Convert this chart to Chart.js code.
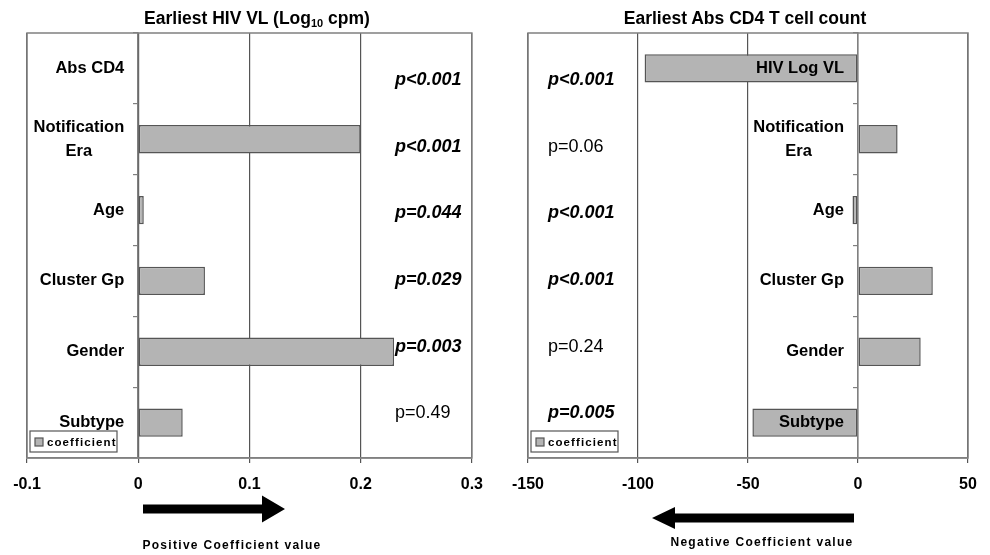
<!DOCTYPE html>
<html><head><meta charset="utf-8">
<script src="https://cdn.jsdelivr.net/npm/chart.js@4.4.1/dist/chart.umd.min.js"></script>
<style>
html,body{margin:0;padding:0;background:#fff;}
#wrap{position:relative;width:990px;height:555px;overflow:hidden;background:#fff;}
canvas{position:absolute;top:0;}
.title{position:absolute;top:8px;font:bold 17.5px "Liberation Sans",Arial,sans-serif;color:#000;white-space:nowrap;transform:translateX(-50%);}
.title sub{font-size:11px;vertical-align:-3px;line-height:0;}
</style></head><body>
<div id="wrap">
<canvas id="c1" width="495" height="555" style="left:0;width:495px;height:555px"></canvas>
<canvas id="c2" width="495" height="555" style="left:495px;width:495px;height:555px"></canvas>
<div class="title" style="left:257px">Earliest HIV VL (Log<sub>10</sub> cpm)</div>
<div class="title" style="left:745px">Earliest Abs CD4 T cell count</div>
</div>
<script>
// ---- data ----
const leftCategories = ['Abs CD4', ['Notification', 'Era'], 'Age', 'Cluster Gp', 'Gender', 'Subtype'];
const leftValues = [-0.001, 0.2, 0.005, 0.06, 0.23, 0.04];
const leftPValues = ['p<0.001', 'p<0.001', 'p=0.044', 'p=0.029', 'p=0.003', 'p=0.49'];
const leftTicks = [-0.1, 0, 0.1, 0.2, 0.3];

const rightCategories = ['HIV Log VL', ['Notification', 'Era'], 'Age', 'Cluster Gp', 'Gender', 'Subtype'];
const rightValues = [-97, 18, -2.5, 34, 28.5, -48];
const rightPValues = ['p<0.001', 'p=0.06', 'p<0.001', 'p<0.001', 'p=0.24', 'p=0.005'];
const rightTicks = [-150, -100, -50, 0, 50];

const seriesName = 'coefficient';
const leftCaption = 'Positive Coefficient value';
const rightCaption = 'Negative Coefficient value';

// ---- helpers ----
const FAM = '"Liberation Sans", Arial, sans-serif';
const LABEL_GAP = 14;
const measureCtx = document.createElement('canvas').getContext('2d');
function centerLines(label, font) {
  if (!Array.isArray(label)) return label;
  measureCtx.font = font;
  const widths = label.map(s => measureCtx.measureText(s).width);
  const maxW = Math.max(...widths);
  const sp = measureCtx.measureText(' ').width;
  return label.map((s, i) => s + ' '.repeat(Math.round((maxW - widths[i]) / 2 / sp)));
}

// shift category labels of the zero-positioned y axis away from the axis line
const labelGap = {
  id: 'labelGap',
  beforeDraw(chart) {
    const s = chart.scales.y;
    if (!s || typeof s._computeLabelItems !== 'function') return;
    const items = s._computeLabelItems(chart.chartArea);
    items.forEach(it => {
      if (it.options && it.options.translation) it.options.translation[0] -= LABEL_GAP;
    });
    s._labelItems = items;
  }
};

const decor = {
  id: 'decor',
  afterDraw(chart, args, o) {
    const ctx = chart.ctx;
    const a = chart.chartArea;
    const h = a.bottom - a.top;
    ctx.save();
    // frame
    ctx.strokeStyle = '#808080';
    ctx.lineWidth = 1.5;
    ctx.strokeRect(a.left, a.top, a.right - a.left, h);
    // p-values
    ctx.fillStyle = '#000';
    ctx.textAlign = 'left';
    ctx.textBaseline = 'middle';
    o.pvals.forEach((p, i) => {
      const num = parseFloat(p.slice(2));
      const sig = num < 0.05;
      ctx.font = (sig ? 'italic bold ' : '') + '18px ' + FAM;
      ctx.fillText(p, a.left + o.pX, a.top + h * (0.1106 + 0.1568 * i));
    });
    // legend
    const lx = a.left + 3, ly = a.bottom - 27, lw = 87, lh = 21;
    ctx.fillStyle = '#fff';
    ctx.fillRect(lx, ly, lw, lh);
    ctx.strokeStyle = '#555';
    ctx.lineWidth = 1.2;
    ctx.strokeRect(lx, ly, lw, lh);
    ctx.fillStyle = '#b4b4b4';
    ctx.fillRect(lx + 5, ly + 7, 8, 8);
    ctx.strokeRect(lx + 5, ly + 7, 8, 8);
    ctx.fillStyle = '#000';
    ctx.font = 'bold 11.5px ' + FAM;
    if ('letterSpacing' in ctx) ctx.letterSpacing = '1.1px';
    ctx.fillText(chart.data.datasets[0].label, lx + 17, ly + lh / 2 + 1);
    // arrow
    const ar = o.arrow;
    ctx.fillStyle = '#000';
    ctx.beginPath();
    ctx.moveTo(ar.x0, ar.y - ar.shaft / 2);
    ctx.lineTo(ar.base, ar.y - ar.shaft / 2);
    ctx.lineTo(ar.base, ar.y - ar.head / 2);
    ctx.lineTo(ar.tip, ar.y);
    ctx.lineTo(ar.base, ar.y + ar.head / 2);
    ctx.lineTo(ar.base, ar.y + ar.shaft / 2);
    ctx.lineTo(ar.x0, ar.y + ar.shaft / 2);
    ctx.closePath();
    ctx.fill();
    // caption
    ctx.font = 'bold 12px ' + FAM;
    if ('letterSpacing' in ctx) ctx.letterSpacing = '1.3px';
    ctx.textAlign = 'center';
    ctx.fillText(o.caption, o.capX, o.capY);
    if ('letterSpacing' in ctx) ctx.letterSpacing = '0px';
    ctx.restore();
  }
};

function makeChart(id, cats, vals, ticks, pvals, decorOpts, pad) {
  const yFont = 'bold 16.5px ' + FAM;
  return new Chart(document.getElementById(id), {
    type: 'bar',
    data: {
      labels: cats,
      datasets: [{
        label: seriesName,
        data: vals,
        backgroundColor: '#b4b4b4',
        borderColor: '#555',
        borderWidth: 1.5,
        borderSkipped: false,
        barPercentage: 0.4,
        categoryPercentage: 1
      }]
    },
    plugins: [labelGap, decor],
    options: {
      indexAxis: 'y',
      responsive: false,
      animation: false,
      devicePixelRatio: 1,
      layout: { padding: pad },
      plugins: {
        legend: { display: false },
        tooltip: { enabled: false },
        decor: Object.assign({ pvals: pvals }, decorOpts)
      },
      scales: {
        x: {
          type: 'linear',
          min: ticks[0],
          max: ticks[ticks.length - 1],
          afterBuildTicks: s => { s.ticks = ticks.map(v => ({ value: v })); },
          afterFit: s => { s.height = 40; },
          grid: { color: '#555', lineWidth: 1.2, tickColor: '#555', tickLength: 5, drawTicks: true },
          border: { display: true, color: '#808080', width: 1.5 },
          ticks: {
            padding: 12,
            color: '#000',
            font: { family: FAM, size: 16, weight: 'bold' },
            callback: v => String(v)
          }
        },
        y: {
          type: 'category',
          position: { x: 0 },
          offset: true,
          grid: { offset: true, drawOnChartArea: false, drawTicks: true, tickLength: 4, color: '#808080', lineWidth: 1.2, z: 1 },
          border: { display: true, color: '#808080', width: 1.5, z: 1 },
          ticks: {
            z: 1,
            padding: 10,
            autoSkip: false,
            color: '#000',
            font: { family: FAM, size: 16.5, weight: 'bold', lineHeight: 1.45 },
            callback: function (v, i) { return centerLines(cats[i], yFont); }
          }
        }
      }
    }
  });
}

makeChart('c1', leftCategories, leftValues, leftTicks, leftPValues, {
  pX: 368,
  arrow: { x0: 143, base: 262, tip: 285, y: 509, shaft: 9, head: 27 },
  caption: leftCaption, capX: 232, capY: 546
}, { left: 27, right: 22, top: 33, bottom: 57 });

makeChart('c2', rightCategories, rightValues, rightTicks, rightPValues, {
  pX: 20,
  arrow: { x0: 359, base: 180, tip: 157, y: 518, shaft: 9, head: 22 },
  caption: rightCaption, capX: 267, capY: 543
}, { left: 33, right: 22, top: 33, bottom: 57 });
</script>
</body></html>
